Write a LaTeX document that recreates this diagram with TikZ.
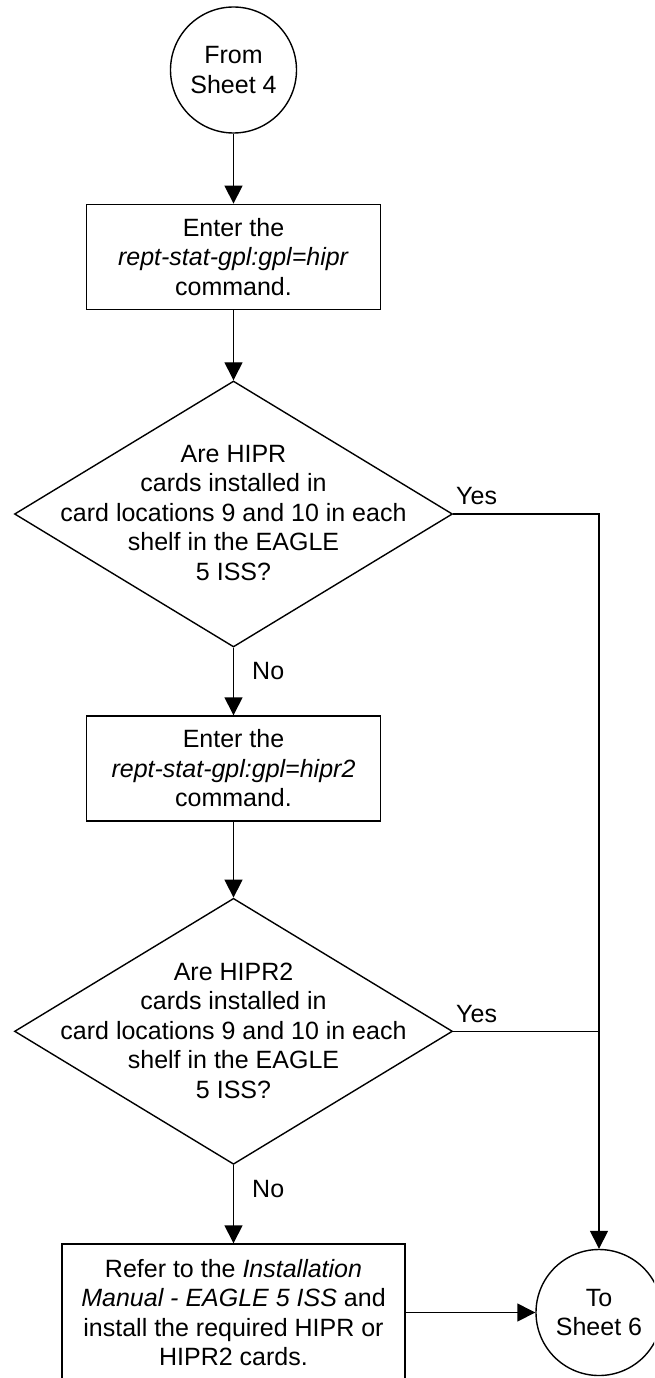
\documentclass[tikz,border=0pt]{standalone}
\usepackage{fontspec}
\setmainfont{Liberation Sans}
\usetikzlibrary{arrows.meta,shapes.geometric}
\begin{document}
\begin{tikzpicture}[x=1pt,y=-1pt,
  every node/.style={font=\fontsize{25}{29.5}\selectfont},
  base/.style={draw,line width=1.4pt,inner sep=0pt,align=center},
  term/.style={base,circle,minimum size=126pt},
  proc/.style={base,rectangle,minimum height=105pt},
  dec/.style={draw,line width=1.4pt,diamond,minimum width=438pt,minimum height=266pt,inner sep=0pt},
  txt/.style={inner sep=0pt,align=center},
  lbl/.style={inner sep=0pt,anchor=west},
  conn/.style={line width=1.4pt},
  arr/.style={conn,-{Triangle[length=18pt,width=18pt]}}]
\useasboundingbox (0,0) rectangle (654,1378);
\clip (0,0) rectangle (654,1378);
\node[term] (c1) at (233.5,70) {From\\Sheet 4};
\node[proc,minimum width=294pt] (b1) at (233.5,256.8) {Enter the\\\textit{rept-stat-gpl:gpl=hipr}\\command.};
\node[dec] (d1) at (233.5,514) {};
\node[txt] (d1t) at (233.5,513) {Are HIPR\\cards installed in\\card locations 9 and 10 in each\\shelf in the EAGLE\\5 ISS?};
\node[proc,minimum width=294pt] (b2) at (233.5,768.5) {Enter the\\\textit{rept-stat-gpl:gpl=hipr2}\\command.};
\node[dec] (d2) at (233.5,1031.3) {};
\node[txt] (d2t) at (233.5,1030.5) {Are HIPR2\\cards installed in\\card locations 9 and 10 in each\\shelf in the EAGLE\\5 ISS?};
\node[proc,minimum width=343pt,minimum height=137pt] (b3) at (233.5,1312.5) {Refer to the \textit{Installation}\\\textit{Manual - EAGLE 5 ISS} and\\install the required HIPR or\\HIPR2 cards.};
\node[term] (c2) at (599,1312.5) {To\\Sheet 6};
\node[lbl] (y1) at (456,496) {Yes};
\node[lbl] (y2) at (456,1014) {Yes};
\node[lbl] (n1) at (252,671) {No};
\node[lbl] (n2) at (252,1189) {No};
\draw[arr] (c1) -- (b1);
\draw[arr] (b1) -- (d1);
\draw[arr] (d1) -- (b2);
\draw[arr] (b2) -- (d2);
\draw[arr] (d2) -- (b3);
\draw[arr] (d1.east) -| (c2.north);
\coordinate (j2) at (d2.east -| c2.north);
\draw[conn] (d2.east) -- (j2);
\draw[arr] (b3.east) -- (c2.west);
\end{tikzpicture}
\end{document}
